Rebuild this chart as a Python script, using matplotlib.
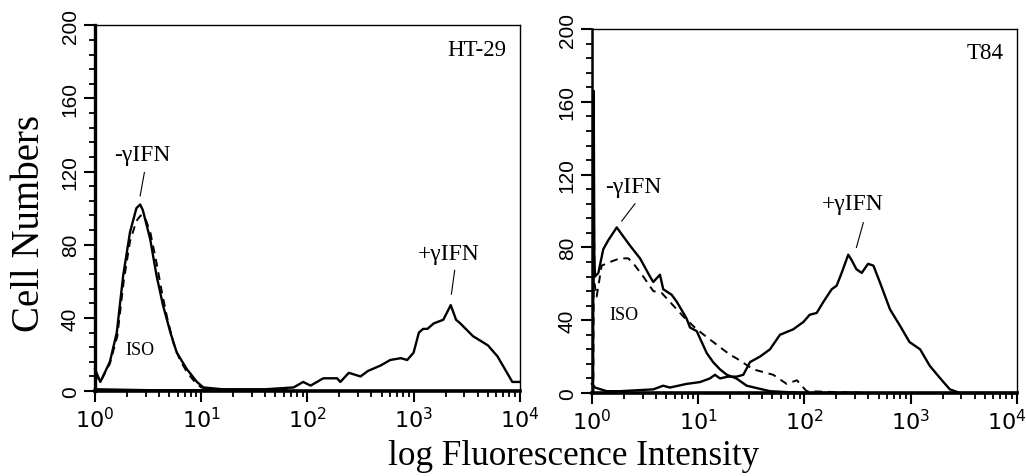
import numpy as np
import matplotlib.pyplot as plt
import matplotlib.transforms as mtransforms
from matplotlib.ticker import FixedLocator, LogLocator, NullFormatter, MultipleLocator

plt.rcParams["mathtext.fontset"] = "custom"
plt.rcParams["mathtext.rm"] = "Liberation Sans"
plt.rcParams["mathtext.it"] = "Liberation Sans"

# ---- HT-29 (x given as log10 of intensity) ----
ht29_neg_logx = [0.0, 0.05, 0.14, 0.205, 0.265, 0.33, 0.39, 0.425, 0.45, 0.52, 0.58,
                 0.64, 0.71, 0.77, 0.865, 0.96, 1.02, 1.2, 1.5, 1.8]
ht29_neg_y = [12, 5, 16, 32, 63, 87, 100, 102, 99, 83, 63, 47, 32, 21, 12, 5, 2, 1, 0.5, 0.5]

ht29_iso_logx = [0.0, 0.05, 0.14, 0.21, 0.27, 0.33, 0.39, 0.43, 0.47, 0.52, 0.58,
                 0.63, 0.68, 0.74, 0.80, 0.87, 0.94, 1.0, 1.1, 1.4]
ht29_iso_y = [10, 5, 15, 30, 60, 82, 93, 96, 95, 87, 70, 54, 40, 26, 17, 10, 5, 2, 1, 0]

ht29_pos_logx = [0.0, 0.5, 1.0, 1.3, 1.6, 1.87, 1.96, 2.03, 2.15, 2.28, 2.31, 2.39, 2.5,
                 2.57, 2.69, 2.78, 2.88, 2.94, 3.0, 3.05, 3.09, 3.13, 3.19, 3.28, 3.35,
                 3.40, 3.44, 3.56, 3.70, 3.79, 3.88, 3.93, 4.0]
ht29_pos_y = [1, 0.5, 0.5, 1, 1, 2, 5, 3, 7, 7, 5, 10, 8, 11, 14, 17, 18, 17, 21, 32,
              34, 34, 37, 39, 47, 39, 37, 30, 25, 19, 10, 5, 5]

# ---- T84 ----
t84_neg_logx = [0.01, 0.016, 0.022, 0.028, 0.06, 0.106, 0.154, 0.233, 0.295, 0.358, 0.452,
                0.546, 0.577, 0.64, 0.671, 0.75, 0.80, 0.89, 0.923, 0.986, 1.08, 1.14,
                1.205, 1.27, 1.36, 1.457, 1.676, 1.99, 2.5]
t84_neg_y = [0, 166, 75, 64, 66, 79, 84, 91, 86, 81, 74, 64, 61, 65, 57, 54, 50, 41, 36,
             34, 22, 17, 13, 10, 8, 4, 1, 0, 0]

t84_iso_logx = [0.012, 0.018, 0.024, 0.044, 0.091, 0.17, 0.264, 0.342, 0.405, 0.483, 0.577,
                0.656, 0.766, 0.86, 0.986, 1.142, 1.30, 1.362, 1.519, 1.707, 1.833, 1.93,
                2.02, 2.3, 2.6]
t84_iso_y = [0, 105, 60, 53, 70, 72, 74, 74, 70, 64, 56, 55, 48, 42, 35, 28, 21, 19, 13,
             10, 5, 7, 1, 0.5, 0]

t84_pos_logx = [0.0, 0.028, 0.138, 0.264, 0.577, 0.67, 0.734, 0.89, 1.017, 1.11, 1.158,
                1.205, 1.28, 1.362, 1.425, 1.488, 1.582, 1.676, 1.77, 1.895, 1.99, 2.05,
                2.116, 2.178, 2.257, 2.304, 2.351, 2.413, 2.445, 2.49, 2.54, 2.60, 2.65,
                2.71, 2.806, 2.90, 2.99, 3.09, 3.18, 3.28, 3.37, 3.465, 3.7, 4.0]
t84_pos_y = [5, 3, 1, 1, 2, 4, 3, 5, 6, 8, 10, 8, 9, 9, 10, 17, 20, 24, 32, 35, 39, 43,
             44, 50, 57, 59, 66, 76, 73, 68, 66, 71, 70, 61, 46, 37, 28, 24, 15, 8, 2, 0,
             0, 0]

y_ticks = [0, 40, 80, 120, 160, 200]
x_ticks = [1, 10, 100, 1000, 10000]
x_ticklabels = [r"$\mathregular{10^{%d}}$" % i for i in range(5)]

panels = [
    {"pos": [0.0926, 0.178, 0.414, 0.767], "name": "HT-29", "name_at": (10**3.6, 187),
     "neg": (ht29_neg_logx, ht29_neg_y), "iso": (ht29_iso_logx, ht29_iso_y),
     "pos_": (ht29_pos_logx, ht29_pos_y), "left_lw": 2.4,
     "neg_lbl": (10**0.45, 129.5), "neg_line": ((10**0.465, 119.5), (10**0.425, 106.7)),
     "iso_lbl": (10**0.425, 23),
     "pos_lbl": (10**3.33, 75), "pos_line": ((10**3.387, 66), (10**3.356, 53))},
    {"pos": [0.577, 0.174, 0.414, 0.763], "name": "T84", "name_at": (10**3.7, 187),
     "neg": (t84_neg_logx, t84_neg_y), "iso": (t84_iso_logx, t84_iso_y),
     "pos_": (t84_pos_logx, t84_pos_y), "left_lw": 1.8,
     "neg_lbl": (10**0.386, 113.7), "neg_line": ((10**0.405, 104), (10**0.28, 94.5)),
     "iso_lbl": (10**0.30, 43),
     "pos_lbl": (10**2.453, 104), "pos_line": ((10**2.555, 93.6), (10**2.49, 80))},
]

fig = plt.figure(figsize=(10.26, 4.77), dpi=100)
axes = []

for p in panels:
    ax = fig.add_axes(p["pos"])
    axes.append(ax)
    lx, ly = p["neg"]
    ax.plot(10 ** np.array(lx), ly, color="black", lw=1.7, clip_on=False, zorder=3)
    lx, ly = p["iso"]
    ax.plot(10 ** np.array(lx), ly, color="black", lw=1.4, ls=(0, (4, 3)),
            clip_on=False, zorder=3)
    lx, ly = p["pos_"]
    ax.plot(10 ** np.array(lx), ly, color="black", lw=1.7, clip_on=False, zorder=3)

    ax.set_xscale("log")
    ax.set_xlim(1, 10000)
    ax.set_ylim(0, 200)

    ax.xaxis.set_major_locator(FixedLocator(x_ticks))
    ax.set_xticklabels(x_ticklabels)
    ax.xaxis.set_minor_locator(LogLocator(base=10, subs=np.arange(2, 10)))
    ax.xaxis.set_minor_formatter(NullFormatter())
    ax.set_yticks(y_ticks)
    ax.set_yticklabels([str(v) for v in y_ticks], rotation=90, va="center",
                       family="Liberation Sans", fontsize=15)
    ax.yaxis.set_minor_locator(MultipleLocator(8))
    for lbl in ax.get_xticklabels():
        lbl.set_fontsize(16)

    ax.tick_params(which="major", direction="out", length=8, width=1.5, pad=3)
    ax.tick_params(which="minor", direction="out", length=4.5, width=1.3)

    ax.spines["left"].set_linewidth(p["left_lw"])
    ax.spines["bottom"].set_linewidth(2.6)
    ax.spines["top"].set_linewidth(1.0)
    ax.spines["right"].set_linewidth(1.0)

    ax.text(*p["name_at"], p["name"], family="Liberation Serif", fontsize=16.5,
            ha="center", va="center")
    ax.text(*p["neg_lbl"], "-γIFN", family="Liberation Serif", fontsize=17,
            ha="center", va="center")
    ax.text(*p["iso_lbl"], "ISO", family="Liberation Serif", fontsize=13,
            ha="center", va="center")
    ax.text(*p["pos_lbl"], "+γIFN", family="Liberation Serif", fontsize=17,
            ha="center", va="center")
    for (x0, y0), (x1, y1) in [p["neg_line"], p["pos_line"]]:
        ax.plot([x0, x1], [y0, y1], color="black", lw=0.8)

# last tick label of the right panel sits against the figure edge
last = axes[1].get_xticklabels()[-1]
last.set_transform(last.get_transform() +
                   mtransforms.ScaledTranslation(-10 / 100, 0, fig.dpi_scale_trans))

fig.text(30 / 1026, 1 - 223 / 477, "Cell Numbers", rotation=90, family="Liberation Serif",
         fontsize=28, ha="center", va="center")
fig.text(574 / 1026, 1 - 457 / 477, "log Fluorescence Intensity", family="Liberation Serif",
         fontsize=25.3, ha="center", va="center")

fig.savefig("out.png", dpi=100)
